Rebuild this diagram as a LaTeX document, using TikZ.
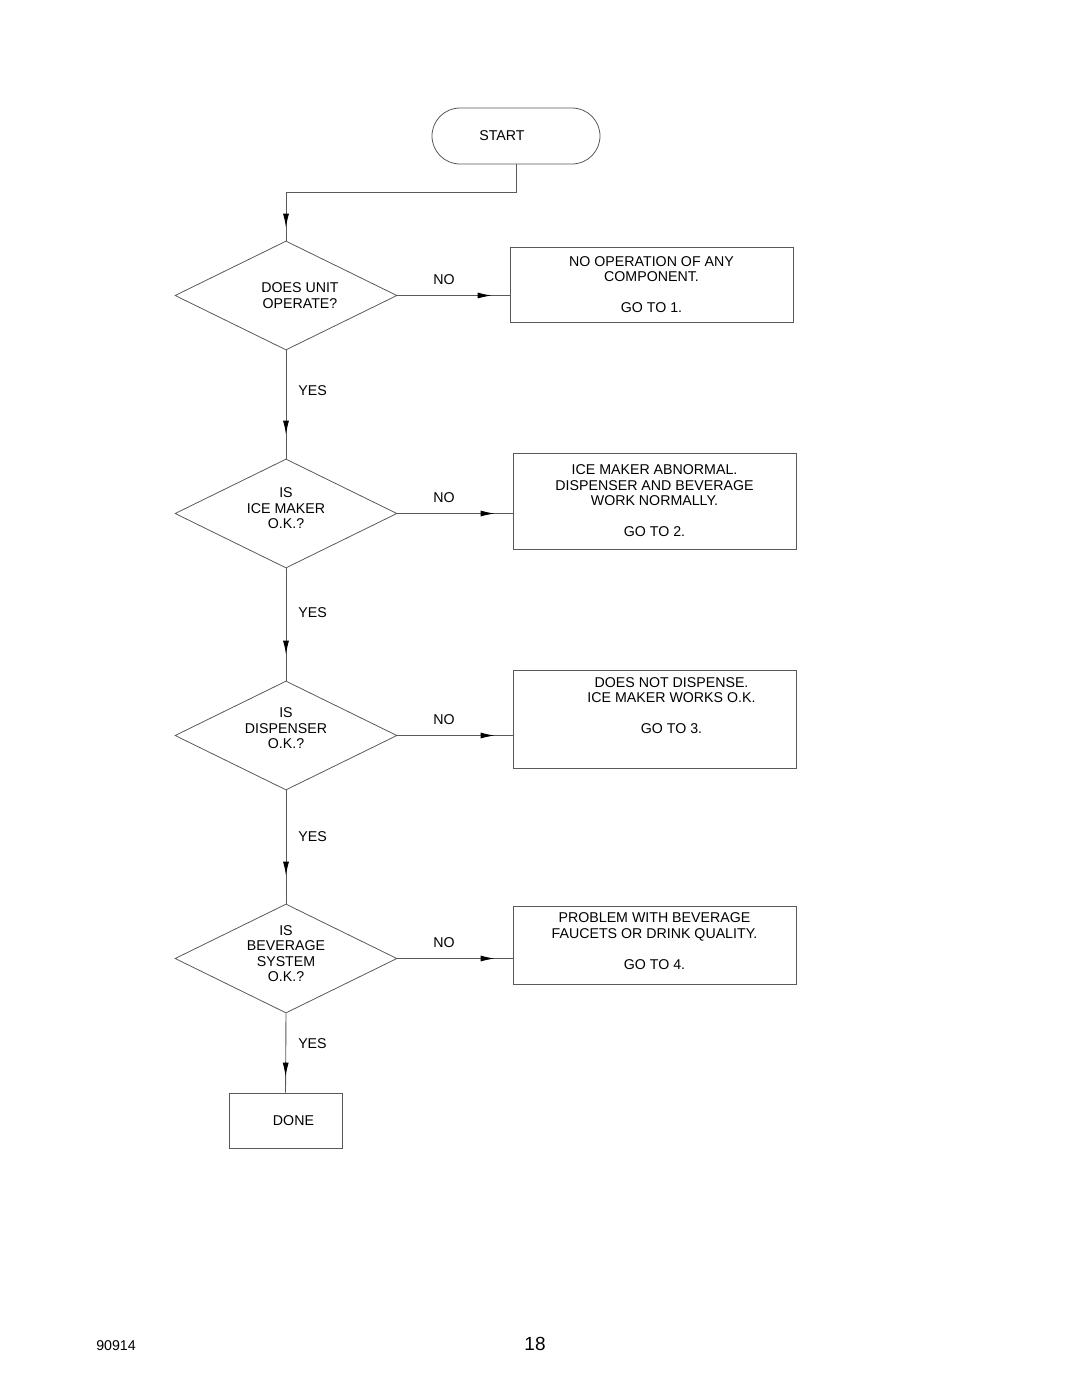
\documentclass[tikz,border=0pt]{standalone}
\usepackage{fontspec}
\setmainfont{Liberation Sans}
\usetikzlibrary{positioning, arrows.meta, shapes.geometric, decorations.markings}
\tikzstyle{terminal} = [rectangle, rounded corners=14pt, minimum width=84pt, minimum height=28pt, text centered, draw=black!65]
\tikzstyle{decision} = [diamond, aspect=2, inner sep=0pt, minimum width=111pt, minimum height=54.5pt, align=center, draw=black!65]
\tikzstyle{result} = [rectangle, minimum width=141.5pt, align=center, draw=black!65]
\tikzstyle{finish} = [rectangle, minimum width=56.5pt, minimum height=27.5pt, draw=black!65]
\tikzstyle{answer} = [inner sep=0pt]
\tikzset{flow/.style={draw=black!65, line width=0.45pt, postaction={decorate},
  decoration={markings, mark=at position -#1 with {\arrow{Latex[length=7pt,width=3pt,black]}}}}}

\begin{document}
\begin{tikzpicture}[x=0.5pt, y=-0.5pt, font=\fontsize{7.1}{7.75}\selectfont, on grid]
	\useasboundingbox (0,0) rectangle (1080,1397);

	\node (start) [terminal] at (516,136) {START\hspace*{14pt}};

	\node (d1) [decision] at (286,295.5) {\hspace*{14pt}DOES UNIT\\\hspace*{14pt}OPERATE?};
	\node (d2) [decision, text depth=5pt, below=109pt of d1] {IS\\ICE MAKER\\O.K.?};
	\node (d3) [decision, text depth=7pt, below=111pt of d2] {IS\\DISPENSER\\O.K.?};
	\node (d4) [decision, text depth=5pt, below=111.5pt of d3] {IS\\BEVERAGE\\SYSTEM\\O.K.?};

	\node (done) [finish] at (285.5,1120.5) {\hspace*{8pt}DONE};

	\node (r1) [result, minimum height=37.5pt] at (651.5,284.5) {NO OPERATION OF ANY\\COMPONENT.\\[7.75pt]GO TO 1.};
	\node (r2) [result, minimum height=48pt] at (654.5,501) {ICE MAKER ABNORMAL.\\DISPENSER AND BEVERAGE\\WORK NORMALLY.\\[7.75pt]GO TO 2.};
	\node (r3) [result, minimum height=48.5pt] at (654.5,719.5) {\hspace*{17pt}DOES NOT DISPENSE.\\\hspace*{17pt}ICE MAKER WORKS O.K.\\[7.75pt]\hspace*{17pt}GO TO 3.\\[6pt]\mbox{}};
	\node (r4) [result, minimum height=39pt, text depth=4pt] at (654.5,945) {PROBLEM WITH BEVERAGE\\FAUCETS OR DRINK QUALITY.\\[7.75pt]GO TO 4.};

	\node (code) at (116,1346) {90914};
	\node (page) [font=\fontsize{9.5}{11}\selectfont] at (535,1344) {18};

	% main line
	\draw [flow=6.5pt] (start.south) -- ++(0,28) -| (d1.north);
	\draw [flow=12pt] (d1.south) -- node [answer, pos=0.37, right=6pt] {YES} (d2.north);
	\draw [flow=13pt] (d2.south) -- node [answer, pos=0.39, right=6pt] {YES} (d3.north);
	\draw [flow=14pt] (d3.south) -- node [answer, pos=0.41, right=6pt] {YES} (d4.north);
	\draw [flow=8pt] (d4.south) -- node [answer, pos=0.375, right=6pt] {YES} (done.north);

	% no branches
	\draw [flow=9pt] (d1.east) -- node [answer, pos=0.416, above=5pt] {NO} (d1.east -| r1.west);
	\draw [flow=9pt] (d2.east) -- node [answer, pos=0.405, above=5pt] {NO} (d2.east -| r2.west);
	\draw [flow=9pt] (d3.east) -- node [answer, pos=0.405, above=5pt] {NO} (d3.east -| r3.west);
	\draw [flow=9pt] (d4.east) -- node [answer, pos=0.405, above=5pt] {NO} (d4.east -| r4.west);
\end{tikzpicture}
\end{document}
